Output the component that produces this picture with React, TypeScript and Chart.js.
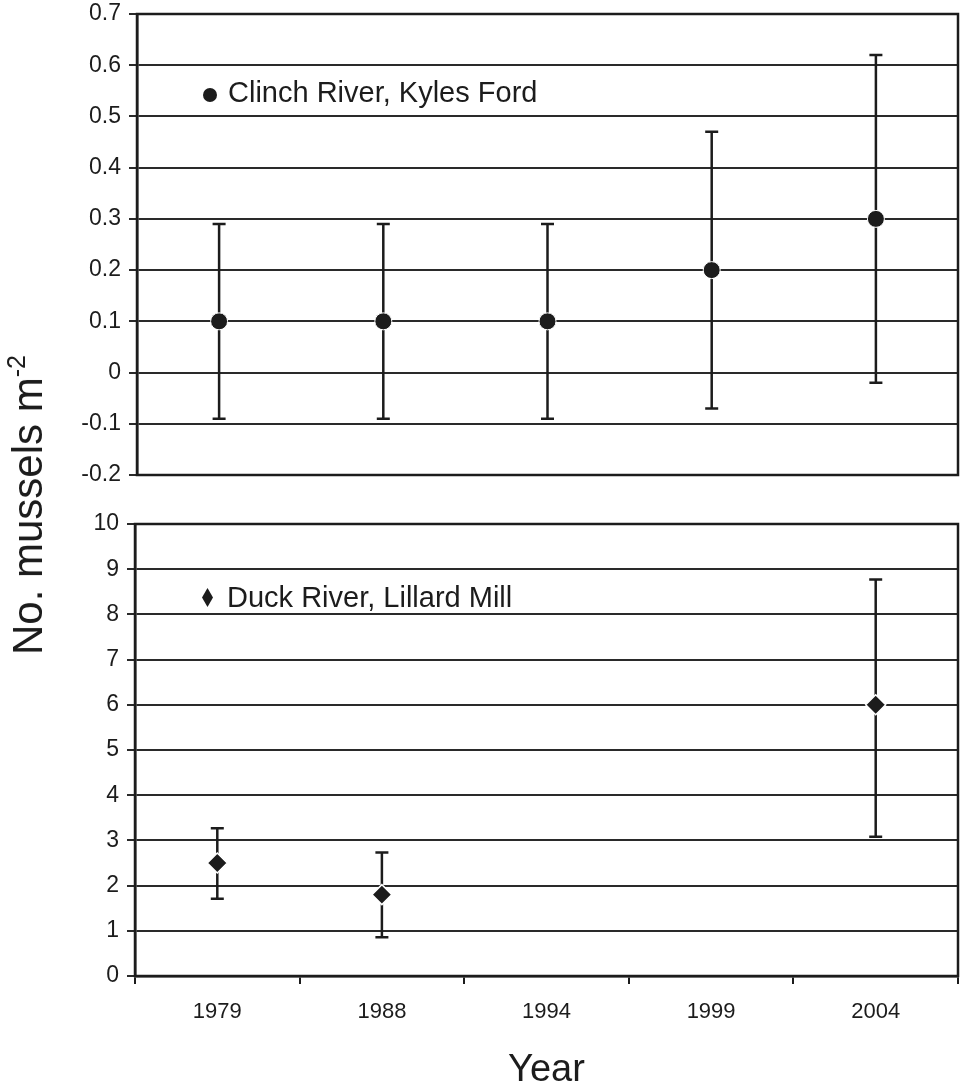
import React, { useEffect, useRef } from 'react';
import { Chart, registerables } from 'chart.js';

Chart.register(...registerables);

const years = ['1979', '1988', '1994', '1999', '2004'];

const clinchMean = [0.1, 0.1, 0.1, 0.2, 0.3];
const clinchLow = [-0.09, -0.09, -0.09, -0.07, -0.02];
const clinchHigh = [0.29, 0.29, 0.29, 0.47, 0.62];

const duckMean = [2.5, 1.8, null, null, 6.0];
const duckLow = [1.71, 0.86, null, null, 3.08];
const duckHigh = [3.27, 2.73, null, null, 8.77];

const clinchTicks = [-0.2, -0.1, 0, 0.1, 0.2, 0.3, 0.4, 0.5, 0.6, 0.7];
const duckTicks = [0, 1, 2, 3, 4, 5, 6, 7, 8, 9, 10];

const clinchLabel = 'Clinch River, Kyles Ford';
const duckLabel = 'Duck River, Lillard Mill';
const xTitle = 'Year';
const yTitleMain = 'No. mussels m';
const yTitleSup = '-2';

const FONT = "'Liberation Sans', Arial, Helvetica, sans-serif";
const INK = '#1c1c1c';

Chart.defaults.font.family = FONT;
Chart.defaults.color = INK;

function errorBarPlugin(lows: (number | null)[], highs: (number | null)[]) {
  return {
    id: 'errbars',
    beforeDatasetsDraw(chart: any) {
      const ctx = chart.ctx;
      const meta = chart.getDatasetMeta(0);
      const ys = chart.scales.y;
      ctx.save();
      ctx.strokeStyle = INK;
      ctx.lineWidth = 2.5;
      meta.data.forEach((pt: any, i: number) => {
        const lo = lows[i];
        const hi = highs[i];
        if (lo == null || hi == null) return;
        const x = pt.x;
        const y1 = ys.getPixelForValue(hi);
        const y2 = ys.getPixelForValue(lo);
        ctx.beginPath();
        ctx.moveTo(x, y1);
        ctx.lineTo(x, y2);
        ctx.moveTo(x - 6.5, y1);
        ctx.lineTo(x + 6.5, y1);
        ctx.moveTo(x - 6.5, y2);
        ctx.lineTo(x + 6.5, y2);
        ctx.stroke();
      });
      ctx.restore();
    },
  };
}

const borderPlugin = {
  id: 'boxborder',
  afterDatasetsDraw(chart: any) {
    const { ctx, chartArea } = chart;
    ctx.save();
    ctx.strokeStyle = INK;
    ctx.lineWidth = 2.5;
    ctx.strokeRect(chartArea.left, chartArea.top, chartArea.right - chartArea.left, chartArea.bottom - chartArea.top);
    ctx.restore();
  },
};

function legendPlugin(kind: 'circle' | 'diamond', text: string, mx: number, my: number, tx: number, ty: number) {
  return {
    id: 'customLegend',
    afterDraw(chart: any) {
      const ctx = chart.ctx;
      ctx.save();
      ctx.fillStyle = INK;
      ctx.beginPath();
      if (kind === 'circle') {
        ctx.arc(mx, my, 7, 0, Math.PI * 2);
      } else {
        ctx.moveTo(mx, my - 9.5);
        ctx.lineTo(mx + 5.5, my);
        ctx.lineTo(mx, my + 9.5);
        ctx.lineTo(mx - 5.5, my);
        ctx.closePath();
      }
      ctx.fill();
      ctx.font = `29px ${FONT}`;
      ctx.textBaseline = 'alphabetic';
      ctx.textAlign = 'left';
      ctx.fillText(text, tx, ty);
      ctx.restore();
    },
  };
}

function yScale(ticksArr: number[], width: number) {
  return {
    type: 'linear' as const,
    min: ticksArr[0],
    max: ticksArr[ticksArr.length - 1],
    afterBuildTicks(scale: any) {
      scale.ticks = ticksArr.map((v) => ({ value: v }));
    },
    afterFit(scale: any) {
      scale.width = width;
      scale.paddingTop = 0;
      scale.paddingBottom = 0;
    },
    ticks: {
      font: { size: 23 },
      color: INK,
      padding: 8,
      callback: (v: any) => String(Math.round(Number(v) * 10) / 10),
    },
    grid: {
      color: '#2a2a2a',
      lineWidth: 2,
      tickLength: 8,
      drawTicks: true,
    },
    border: { display: true, color: INK, width: 2.5 },
  };
}

export default function App() {
  const topRef = useRef<HTMLCanvasElement>(null);
  const botRef = useRef<HTMLCanvasElement>(null);

  useEffect(() => {
    const top = new Chart(topRef.current as HTMLCanvasElement, {
      type: 'line',
      data: {
        labels: years,
        datasets: [
          {
            data: clinchMean,
            showLine: false,
            pointStyle: 'circle',
            pointRadius: 8.5,
            backgroundColor: INK,
            borderColor: '#ffffff',
            borderWidth: 1,
          },
        ],
      },
      options: {
        animation: false,
        responsive: false,
        events: [],
        layout: { padding: { left: 0, right: 6, top: 14, bottom: 15 }, autoPadding: false },
        plugins: { legend: { display: false }, tooltip: { enabled: false } },
        scales: {
          x: { type: 'category', offset: true, display: false },
          y: yScale(clinchTicks, 137),
        },
      },
      plugins: [errorBarPlugin(clinchLow, clinchHigh), borderPlugin, legendPlugin('circle', clinchLabel, 210, 95, 228, 102)],
    } as any);

    const bot = new Chart(botRef.current as HTMLCanvasElement, {
      type: 'line',
      data: {
        labels: years,
        datasets: [
          {
            data: duckMean,
            showLine: false,
            pointStyle: 'rectRot',
            pointRadius: 10,
            backgroundColor: INK,
            borderColor: '#ffffff',
            borderWidth: 1.5,
          },
        ],
      },
      options: {
        animation: false,
        responsive: false,
        events: [],
        layout: { padding: { left: 0, right: 6, top: 34, bottom: 0 }, autoPadding: false },
        plugins: { legend: { display: false }, tooltip: { enabled: false } },
        scales: {
          x: {
            type: 'category',
            offset: true,
            afterFit(scale: any) {
              scale.height = 113;
            },
            grid: {
              offset: true,
              drawOnChartArea: false,
              drawTicks: true,
              tickLength: 8,
              lineWidth: 2,
              color: INK,
            },
            border: { display: true, color: INK, width: 2.5 },
            ticks: { font: { size: 22 }, color: INK, padding: 15, maxRotation: 0 },
            title: {
              display: true,
              text: xTitle,
              color: INK,
              font: { size: 38, lineHeight: 1 },
              padding: { top: 0, bottom: -1 },
            },
          },
          y: yScale(duckTicks, 135),
        },
      },
      plugins: [errorBarPlugin(duckLow, duckHigh), borderPlugin, legendPlugin('diamond', duckLabel, 207.5, 107.5, 227, 117)],
    } as any);

    return () => {
      top.destroy();
      bot.destroy();
    };
  }, []);

  return (
    <div
      style={{
        position: 'absolute',
        left: 0,
        top: 0,
        width: 964,
        height: 1089,
        overflow: 'hidden',
        background: '#ffffff',
      }}
    >
      <canvas
        ref={topRef}
        width={964}
        height={490}
        style={{ position: 'absolute', left: 0, top: 0, width: 964, height: 490 }}
      />
      <canvas
        ref={botRef}
        width={964}
        height={599}
        style={{ position: 'absolute', left: 0, top: 490, width: 964, height: 599 }}
      />
      <div
        style={{
          position: 'absolute',
          left: 27.5,
          top: 505,
          transform: 'translate(-50%, -50%) rotate(-90deg)',
          whiteSpace: 'nowrap',
          fontFamily: FONT,
          fontSize: 42,
          lineHeight: 1,
          color: INK,
        }}
      >
        {yTitleMain}
        <span style={{ fontSize: 25, position: 'relative', top: -17 }}>{yTitleSup}</span>
      </div>
    </div>
  );
}
